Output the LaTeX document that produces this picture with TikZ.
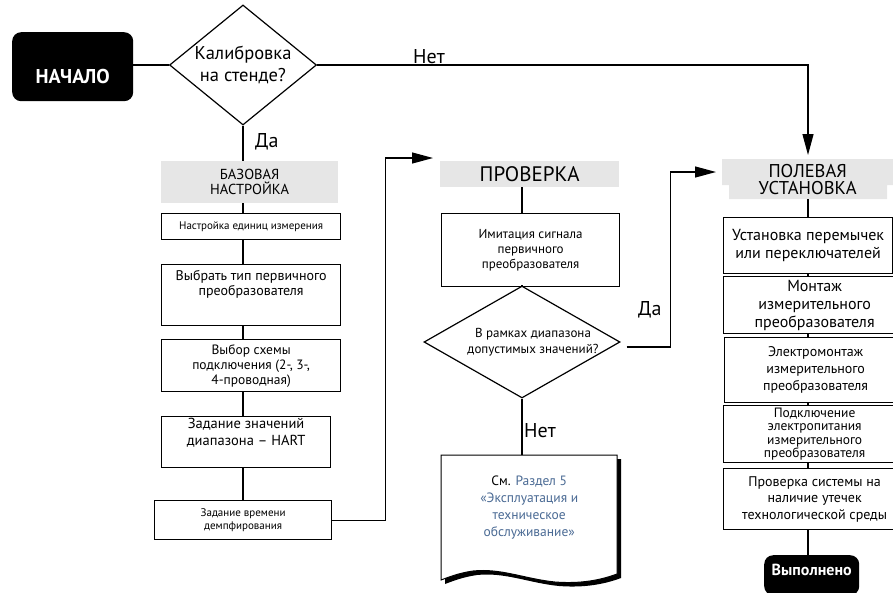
\documentclass[tikz,border=0pt]{standalone}
\usepackage{fontspec}
\setmainfont{PT Sans}
\usetikzlibrary{arrows.meta,shapes.geometric,calc}
\definecolor{hdrgray}{HTML}{E6E6E6}
\definecolor{linkblue}{HTML}{4A6A94}
\newcommand{\fsz}[2]{\fontsize{#1}{#2}\selectfont}

\begin{document}
\begin{tikzpicture}[x=1pt,y=-1pt,
  conn/.style={line width=1.2pt},
  arr/.style={conn,-{Triangle[length=21pt,width=11pt]}},
  term/.style={fill=black,rounded corners=9pt,inner sep=0,anchor=north west},
  termtext/.style={text=white,font=\bfseries,inner sep=0},
  hdr/.style={fill=hdrgray,inner sep=0,align=center,anchor=north west},
  box/.style={draw,line width=1.2pt,inner sep=0,align=center,anchor=north west},
  dec/.style={draw,line width=1.2pt,diamond,inner sep=0},
  inner/.style={inner sep=0,align=center},
  lbl/.style={inner sep=0,font=\fsz{20}{24}}]
\useasboundingbox (0,0) rectangle (893,592);

% ---- start and first decision
\node[term,minimum width=121,minimum height=69] (start) at (12,32) {};
\node[termtext,font=\bfseries\fsz{20}{24}] (starttxt) at ($(start.center)+(0,10)$) {НАЧАЛО};
\node[dec,minimum width=147,minimum height=120] (q1) at (243,65) {};
\node[inner,font=\fsz{18.5}{22}] (q1txt) at (q1.center) {Калибровка\\на стенде?};
\draw[conn] (start.east |- q1.west) -- (q1.west);

% ---- left column: basic setup
\node[hdr,minimum width=177,minimum height=42,font=\fsz{14.5}{15}] (h1) at (161,161) {БАЗОВАЯ\\НАСТРОЙКА};
\node[box,minimum width=179,minimum height=26,font=\fsz{11}{13}] (b1) at (161,213) {Настройка единиц измерения};
\node[box,minimum width=179,minimum height=61] (b2) at (161,264) {};
\node[inner,anchor=north,font=\fsz{14}{15}] (b2txt) at ($(b2.north)+(0,6)$) {Выбрать тип первичного\\преобразователя};
\node[box,minimum width=179,minimum height=52,font=\fsz{13.5}{15}] (b3) at (161,339) {Выбор схемы\\подключения (2-, 3-,\\4-проводная)};
\node[box,minimum width=169,minimum height=51] (b4) at (161,416) {};
\node[inner,anchor=north,font=\fsz{14.5}{17}] (b4txt) at ($(b4.north)+(0,2)$) {Задание значений\\диапазона – HART};
\node[box,minimum width=177,minimum height=39,font=\fsz{11}{13}] (b5) at (154,500) {Задание времени\\демпфирования};

\draw[conn] (q1.south) -- (h1.north -| q1.south);
\node[lbl,anchor=west] (yes1) at (255,142) {Да};
\draw[conn] (h1.south -| q1.south) -- (b1.north -| q1.south);
\draw[conn] (b1.south -| q1.south) -- (b2.north -| q1.south);
\draw[conn] (b2.south -| q1.south) -- (b3.north -| q1.south);
\draw[conn] (b3.south -| q1.south) -- (b4.north -| q1.south);
\draw[conn] (b4.south -| q1.south) -- (b5.north -| q1.south);

% ---- middle column: check
\coordinate (a2) at (433,158);
\draw[arr] (b5.east) -- ++(53,0) |- (a2);
\node[hdr,minimum width=179,minimum height=26,font=\fsz{21}{22}] (h2) at (440,161) {ПРОВЕРКА};
\node[box,minimum width=178,minimum height=73,font=\fsz{13}{15}] (m1) at (441,213) {Имитация сигнала\\первичного\\преобразователя};
\node[dec,minimum width=196,minimum height=112] (q2) at (522,342) {};
\node[inner,font=\fsz{13}{15.5}] (q2txt) at ($(q2.center)+(11,0)$) {В рамках диапазона\\допустимых значений?};
\draw[conn] (h2.south -| q2.north) -- (m1.north -| q2.north);
\draw[conn] (m1.south -| q2.north) -- (q2.north);

% document with drop shadow
\node[inner sep=0,minimum width=176,minimum height=125,anchor=north west] (doc) at (441,455) {};
\begin{scope}[shift={(doc.north west)}]
  \def\docpath{(0,0) -- (176,0) -- (176,119)
    .. controls (160,125) and (140,129) .. (114,127)
    .. controls (84,124) and (60,113) .. (32,116)
    .. controls (18,118) and (8,122) .. (0,125) -- cycle}
  \fill[black] [shift={(4,4)}] \docpath;
  \filldraw[fill=white,draw=black,line width=1pt] \docpath;
\end{scope}
\node[inner,font=\fsz{13.5}{17},text=linkblue] (doctxt) at ($(doc.center)+(0,-10)$)
  {\textcolor{black}{См.} Раздел 5\\«Эксплуатация и\\техническое\\обслуживание»};
\draw[conn] (q2.south) -- (doc.north -| q2.south);
\node[lbl,anchor=west] (no2) at (524,431) {Нет};

% ---- right column: field installation
\fill[hdrgray] (722,159) rectangle (893,185) (729,185) rectangle (887,199);
\node[inner sep=0,minimum width=171,minimum height=40,anchor=north west,align=center,font=\fsz{18.5}{17}] (h3) at (722,159) {ПОЛЕВАЯ\\УСТАНОВКА};
\node[box,minimum width=169,minimum height=56,font=\fsz{16}{18}] (r1) at (723,217) {Установка перемычек\\или переключателей};
\node[box,minimum width=182,minimum height=57,font=\fsz{16}{18}] (r2) at (723,276) {Монтаж\\измерительного\\преобразователя};
\node[box,minimum width=182,minimum height=65,font=\fsz{14}{17}] (r3) at (724,337) {Электромонтаж\\измерительного\\преобразователя};
\node[box,minimum width=182,minimum height=57,font=\fsz{13.5}{13.5}] (r4) at (723,405) {Подключение\\электропитания\\измерительного\\преобразователя};
\node[box,minimum width=182,minimum height=61,font=\fsz{14}{16.5}] (r5) at (723,468) {Проверка системы на\\наличие утечек\\технологической среды};
\node[term,minimum width=95,minimum height=40] (done) at (764,555) {};
\node[termtext,font=\bfseries\fsz{16}{18}] (donetxt) at ($(done.north)+(0,15)$) {Выполнено};

\coordinate (cx) at (808,0);
\draw[arr,shorten >=4pt] (q1.east) -| (h3.north -| cx);
\node[lbl,anchor=west] (no1) at (413,57) {Нет};
\draw[conn] (h3.south -| cx) -- (r1.north -| cx);
\draw[conn] (r1.south -| cx) -- (r2.north -| cx);
\draw[conn] (r2.south -| cx) -- (r3.north -| cx);
\draw[conn] (r3.south -| cx) -- (r4.north -| cx);
\draw[conn] (r4.south -| cx) -- (r5.north -| cx);
\draw[conn] (r5.south -| cx) -- (done.north -| cx);

\coordinate (a3) at (716,172);
\draw[arr] ($(q2.east)+(6,5)$) -- ++(44,0) |- (a3);
\node[lbl,anchor=west] (yes2) at (638,310) {Да};
\end{tikzpicture}
\end{document}
